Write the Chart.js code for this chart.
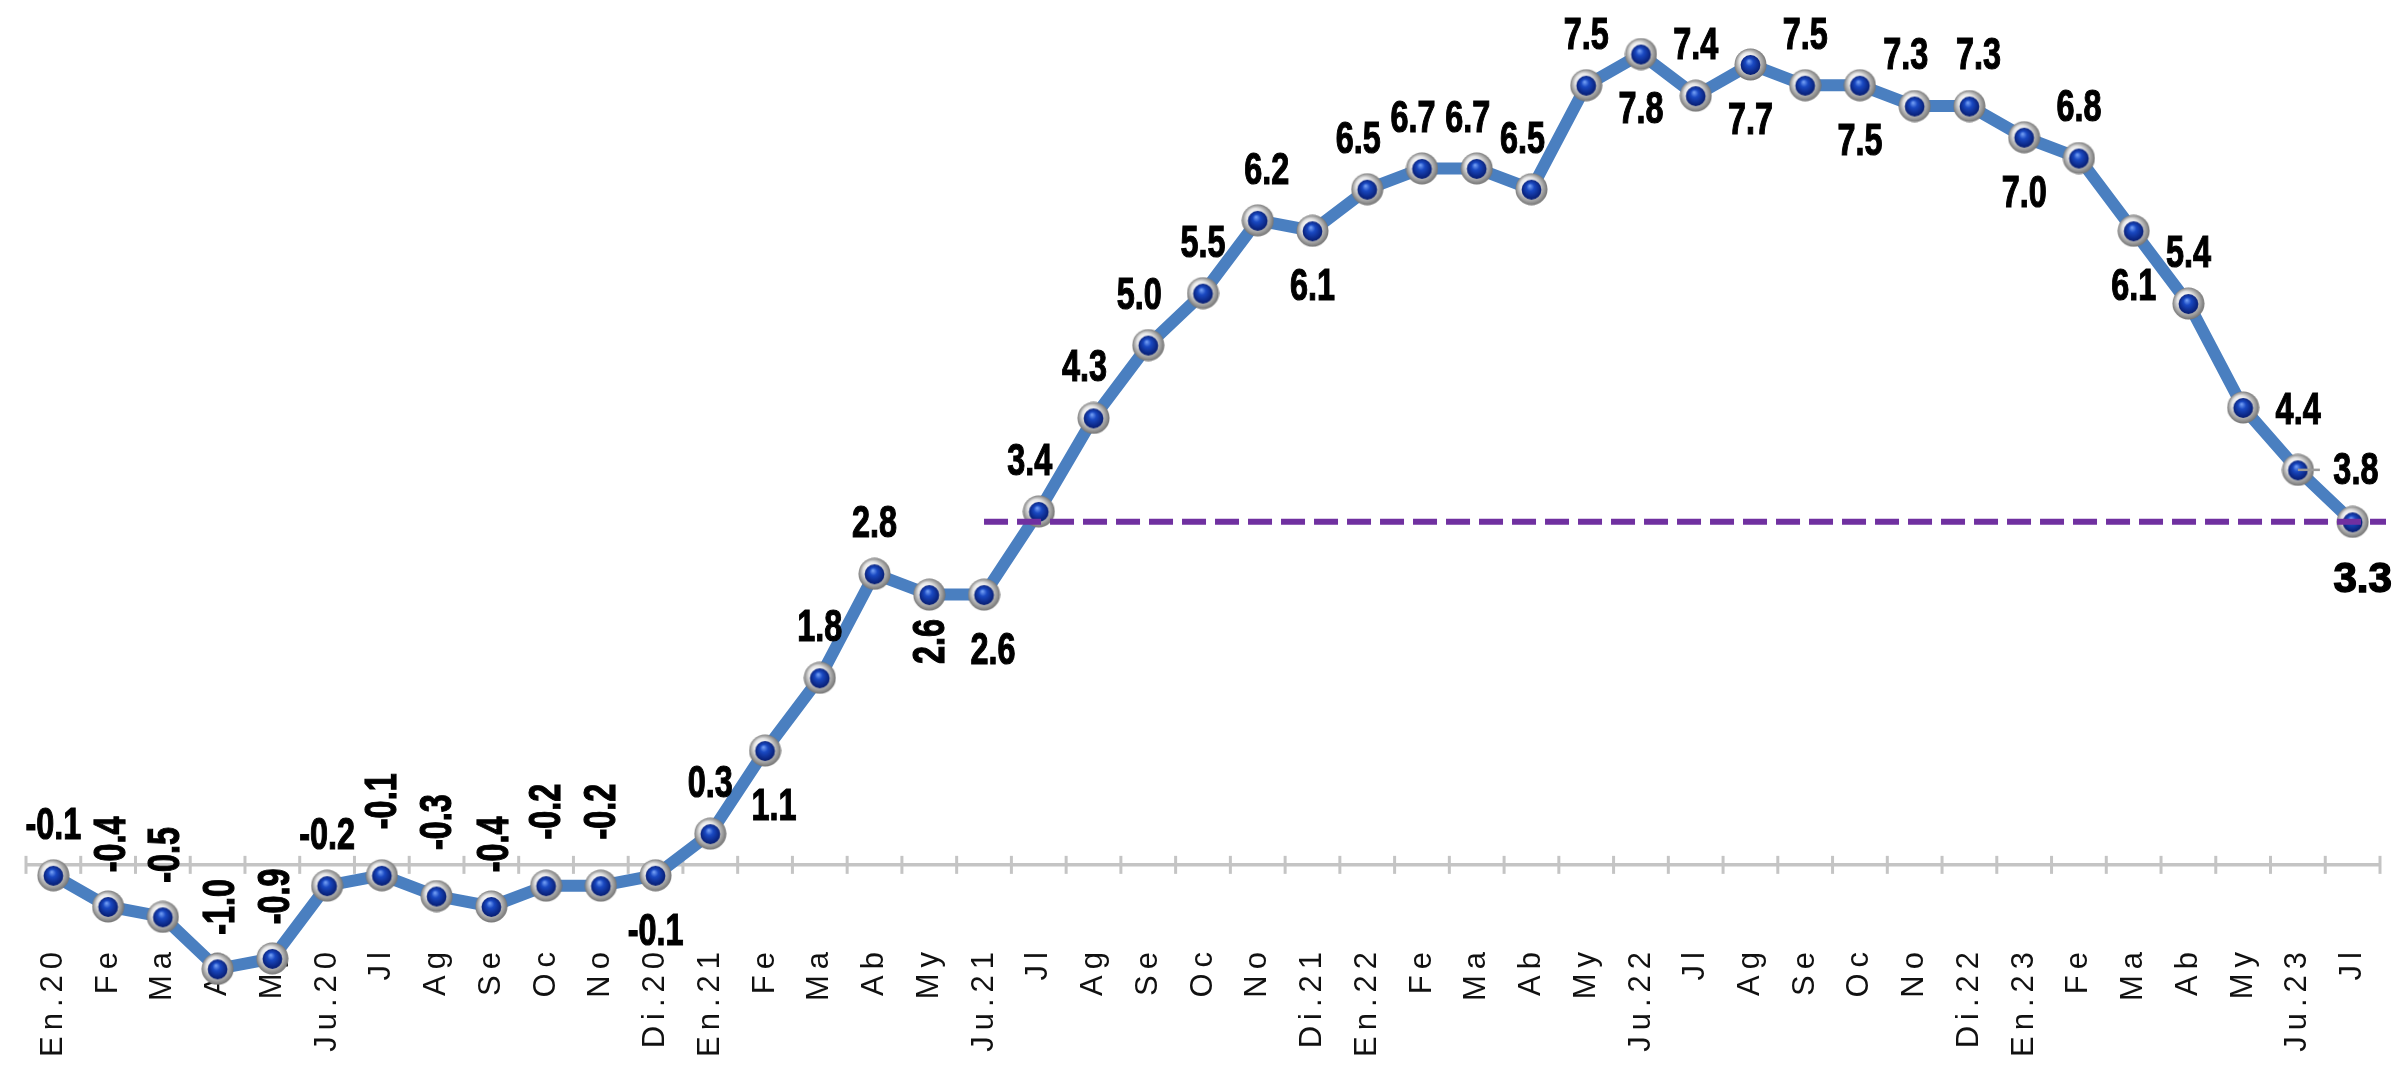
<!DOCTYPE html>
<html>
<head>
<meta charset="utf-8">
<script src="https://cdn.jsdelivr.net/npm/chart.js@4.4.1/dist/chart.umd.min.js"></script>
<style>
  html, body { margin: 0; padding: 0; background: #fff; }
  #wrap { width: 2397px; height: 1065px; position: relative; }
</style>
</head>
<body>
<div id="wrap"><canvas id="inflChart"></canvas></div>
<script>
// months on the category axis
const months = [
  "En.20", "Fe", "Ma", "Ab", "My", "Ju.20", "Jl", "Ag", "Se", "Oc", "No", "Di.20",
  "En.21", "Fe", "Ma", "Ab", "My", "Ju.21", "Jl", "Ag", "Se", "Oc", "No", "Di.21",
  "En.22", "Fe", "Ma", "Ab", "My", "Ju.22", "Jl", "Ag", "Se", "Oc", "No", "Di.22",
  "En.23", "Fe", "Ma", "Ab", "My", "Ju.23", "Jl"
];

// monthly values
const inflation = [
  -0.1, -0.4, -0.5, -1.0, -0.9, -0.2, -0.1, -0.3, -0.4, -0.2, -0.2, -0.1,
  0.3, 1.1, 1.8, 2.8, 2.6, 2.6, 3.4, 4.3, 5.0, 5.5, 6.2, 6.1,
  6.5, 6.7, 6.7, 6.5, 7.5, 7.8, 7.4, 7.7, 7.5, 7.5, 7.3, 7.3,
  7.0, 6.8, 6.1, 5.4, 4.4, 3.8, 3.3
];

// where each value label sits (a = above, b = below, v = vertical, r = right ...)
const labelSpots = [
  "a", "v", "v", "v", "v", "a", "vh", "vh", "v", "vh", "vh", "b",
  "a", "br", "a", "a", "vb", "br", "al", "al", "al", "a", "ar", "b",
  "al", "al", "al", "al", "a", "b", "a", "b", "a", "b", "al", "ar",
  "b", "a", "b", "a", "r", "rl", "big"
];

// reference level (dashed line) and the month where it starts
const targetValue = 3.3;
const targetFrom = 17;

const spotOffsets = {
  a:   { dx: 0, dy: -51 },
  al:  { dx: -9, dy: -51 },
  ar:  { dx: 9, dy: -51 },
  b:   { dx: 0, dy: 55 },
  br:  { dx: 9, dy: 55 },
  r:   { dx: 55, dy: 2 },
  rl:  { dx: 58, dy: 0 },
  v:   { dx: 2, dy: -62, rot: true },
  vh:  { dx: 0, dy: -74, rot: true },
  vb:  { dx: 0, dy: 47, rot: true },
  big: { dx: 10, dy: 57 }
};

const labelFont = 'bold 45px "Liberation Sans", Arial, sans-serif';
const bigFont = 'bold 42px "Liberation Sans", Arial, sans-serif';

// category axis whose labels may reach up into the plot (no clipping)
class OpenCategoryScale extends Chart.CategoryScale {
  _computeLabelArea() { return undefined; }
}
OpenCategoryScale.id = "openCategory";
OpenCategoryScale.defaults = Chart.CategoryScale.defaults;
Chart.register(OpenCategoryScale);

// blue ball inside a silver ring
function makeBall(size) {
  const c = document.createElement("canvas");
  c.width = size; c.height = size;
  const g = c.getContext("2d");
  const r = size / 2;
  let grad = g.createRadialGradient(r * 0.7, r * 0.6, 1, r, r, r);
  grad.addColorStop(0, "#ffffff");
  grad.addColorStop(0.5, "#e2e2e2");
  grad.addColorStop(0.8, "#a0a0a0");
  grad.addColorStop(1, "#6e6e6e");
  g.fillStyle = grad;
  g.beginPath(); g.arc(r, r, r - 0.5, 0, Math.PI * 2); g.fill();
  grad = g.createRadialGradient(r * 0.9, r * 0.8, 0.5, r, r, r * 0.62);
  grad.addColorStop(0, "#6f9bf2");
  grad.addColorStop(0.35, "#1a49c2");
  grad.addColorStop(1, "#071d72");
  g.fillStyle = grad;
  g.beginPath(); g.arc(r, r + 0.5, r * 0.6, 0, Math.PI * 2); g.fill();
  return c;
}
const ball = makeBall(33);

// zero line with category ticks
const zeroAxis = {
  id: "zeroAxis",
  beforeDatasetsDraw(chart) {
    const { ctx, chartArea, scales: { x, y } } = chart;
    const y0 = y.getPixelForValue(0);
    const w = x.getPixelForValue(1) - x.getPixelForValue(0);
    ctx.save();
    ctx.strokeStyle = "#c4c4c4";
    ctx.lineWidth = 3.5;
    ctx.beginPath();
    ctx.moveTo(chartArea.left, y0);
    ctx.lineTo(chartArea.right, y0);
    ctx.stroke();
    ctx.lineWidth = 3;
    for (let i = 0; i <= months.length; i++) {
      const px = x.getPixelForValue(0) - w / 2 + i * w;
      ctx.beginPath();
      ctx.moveTo(px, y0 - 9);
      ctx.lineTo(px, y0 + 9);
      ctx.stroke();
    }
    ctx.restore();
  }
};

// dashed reference line + value labels
const valueLabels = {
  id: "valueLabels",
  beforeDraw(chart) {
    chart.ctx.letterSpacing = "6px";
  },
  afterDatasetsDraw(chart) {
    const { ctx, chartArea, scales: { x, y } } = chart;
    ctx.save();
    ctx.letterSpacing = "0px";

    const yt = y.getPixelForValue(targetValue);
    ctx.strokeStyle = "#7030a0";
    ctx.lineWidth = 6;
    ctx.setLineDash([24, 9]);
    ctx.beginPath();
    ctx.moveTo(x.getPixelForValue(targetFrom), yt);
    ctx.lineTo(chartArea.right + 6, yt);
    ctx.stroke();
    ctx.setLineDash([]);

    ctx.fillStyle = "#000";
    ctx.strokeStyle = "#000";
    ctx.textAlign = "center";
    ctx.textBaseline = "middle";
    chart.getDatasetMeta(0).data.forEach((pt, i) => {
      const spot = labelSpots[i];
      const o = spotOffsets[spot];
      const txt = inflation[i].toFixed(1);
      if (spot === "rl") {
        ctx.strokeStyle = "#9a9a9a";
        ctx.lineWidth = 2.5;
        ctx.beginPath();
        ctx.moveTo(pt.x, pt.y);
        ctx.lineTo(pt.x + 22, pt.y);
        ctx.stroke();
        ctx.strokeStyle = "#000";
      }
      ctx.save();
      ctx.translate(pt.x + o.dx, pt.y + o.dy);
      if (o.rot) ctx.rotate(-Math.PI / 2);
      if (spot === "big") {
        ctx.font = bigFont;
        ctx.lineWidth = 1.5;
      } else {
        // narrow look
        ctx.font = labelFont;
        ctx.scale(0.72, 1);
        ctx.lineWidth = 1.2;
      }
      ctx.fillText(txt, 0, 2);
      ctx.strokeText(txt, 0, 2);
      ctx.restore();
    });
    ctx.restore();
  },
  afterDraw(chart) {
    chart.ctx.letterSpacing = "0px";
  }
};

const ctx = document.getElementById("inflChart").getContext("2d");
const inflChart = new Chart(ctx, {
  type: "line",
  data: {
    labels: months,
    datasets: [
      {
        data: inflation,
        borderColor: "#4a7fc0",
        borderWidth: 12,
        tension: 0,
        pointStyle: ball,
        pointRadius: 16,
        clip: false
      }
    ]
  },
  options: {
    responsive: true,
    maintainAspectRatio: false,
    animation: false,
    devicePixelRatio: 1,
    layout: { autoPadding: false, padding: { left: 26, right: 17, top: 0, bottom: 0 } },
    plugins: {
      legend: { display: false },
      tooltip: { enabled: false }
    },
    scales: {
      x: {
        type: "openCategory",
        offset: true,
        grid: { display: false },
        border: { display: false },
        ticks: {
          autoSkip: false,
          maxRotation: 90,
          minRotation: 90,
          padding: -62,
          color: "#111",
          font: { family: '"Liberation Sans", Arial, sans-serif', size: 31 }
        },
        afterFit: (scale) => { scale.height = 65; }
      },
      y: {
        display: false,
        min: -1.3,
        max: 8.32
      }
    }
  },
  plugins: [zeroAxis, valueLabels]
});
</script>
</body>
</html>
